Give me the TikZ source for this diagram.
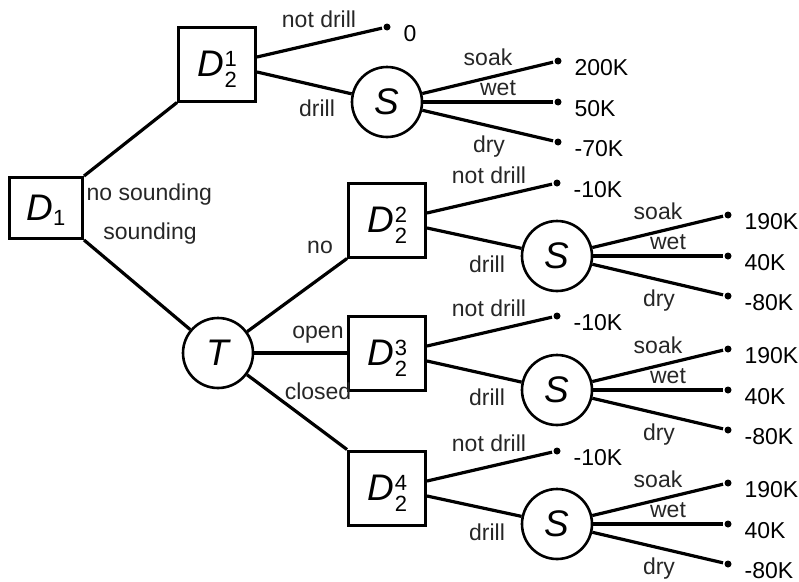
\documentclass[tikz,border=0pt]{standalone}
\usepackage{fontspec}
\setmainfont{Liberation Sans}
\usepackage{tikz}

\newcommand\dname[2]{\textit{D}\kern1pt%
  \smash{\makebox[0pt][l]{\raisebox{10pt}{\fontsize{22}{22}\selectfont#1}}}%
  \smash{\raisebox{-11pt}{\fontsize{22}{22}\selectfont#2}}}

\begin{document}
\begin{tikzpicture}[x=1pt,y=-1pt,line width=3.2pt,
  dbox/.style={draw,line width=3pt,minimum width=77pt,minimum height=74pt,
    inner sep=0pt,font=\fontsize{37}{37}\selectfont},
  chance/.style={draw,circle,line width=2.6pt,minimum size=70pt,inner sep=0pt,
    font=\fontsize{37}{37}\selectfont\itshape},
  leaf/.style={circle,fill,inner sep=0pt,minimum size=7pt},
  lbl/.style={font=\fontsize{23}{23}\selectfont,text=black!85,inner sep=0pt},
  val/.style={font=\fontsize{23}{23}\selectfont,anchor=west,inner sep=0pt}]
  \useasboundingbox (0,0) rectangle (799,581);

  \node[dbox,minimum width=73pt,minimum height=61pt] (d1) at (46,208)
    {\textit{D}\smash{\raisebox{-5pt}{\fontsize{22}{22}\selectfont 1}}};
  \node[chance] (t) at (218,353) {T};

  \foreach \n/\dx/\dy/\sx/\sy/\vn/\va/\vb/\vc in
    {1/217/64/387/102/0/200K/50K/-70K,
     2/387/220/557/256/-10K/190K/40K/-80K,
     3/387/353/557/390/-10K/190K/40K/-80K,
     4/387/488/557/524/-10K/190K/40K/-80K}{
    \node[dbox] (d2\n) at (\dx,\dy) {\dname{\n}{2}};
    \node[chance] (s\n) at (\sx,\sy) {S};
    \node[leaf] (n\n) at (\dx+170,\dy-37) {};
    \node[leaf] (s\n-a) at (\sx+171,\sy-41) {};
    \node[leaf] (s\n-b) at (\sx+171,\sy) {};
    \node[leaf] (s\n-c) at (\sx+171,\sy+40) {};
    \draw ([yshift=7pt]d2\n.east) -- (n\n);
    \draw ([yshift=-8pt]d2\n.east) -- (s\n);
    \draw (s\n) -- (s\n-a);
    \draw (s\n) -- (s\n-b);
    \draw (s\n) -- (s\n-c);
    \node[lbl] at (\dx+102,\dy-45) {not drill};
    \node[lbl] at (\dx+100,\dy+44) {drill};
    \node[lbl] at (\sx+101,\sy-45) {soak};
    \node[lbl] at (\sx+111,\sy-14) {wet};
    \node[lbl] at (\sx+102,\sy+45) {dry};
    \node[val] at ([shift={(15,7)}]n\n) {\vn};
    \node[val] at ([shift={(15,7)}]s\n-a) {\va};
    \node[val] at ([shift={(15,7)}]s\n-b) {\vb};
    \node[val] at ([shift={(15,7)}]s\n-c) {\vc};
  }

  \draw (d1.north east) -- (d21.south west);
  \draw (d1.south east) -- (t);
  \draw (t) -- (d22.south west);
  \draw (t) -- (d23);
  \draw (t) -- (d24.north west);

  \node[lbl,anchor=west] at (85,195) {no sounding};
  \node[lbl] at (150,234) {sounding};
  \node[lbl] at (320,247) {no};
  \node[lbl] at (318,335) {open};
  \node[lbl] at (318,391) {closed};
\end{tikzpicture}
\end{document}
